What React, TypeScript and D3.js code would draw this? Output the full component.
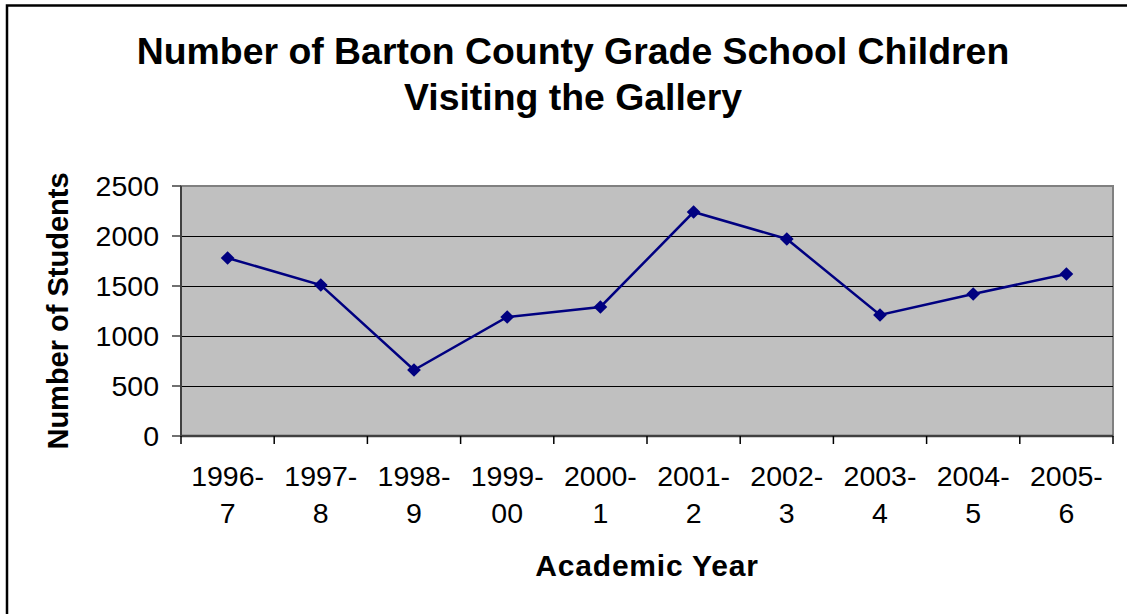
import React from "react";
import * as d3 from "d3";

const categories = ["1996-7", "1997-8", "1998-9", "1999-00", "2000-1", "2001-2", "2002-3", "2003-4", "2004-5", "2005-6"];
const students = [1780, 1510, 660, 1190, 1290, 2240, 1970, 1210, 1420, 1620];
const yTicks = [0, 500, 1000, 1500, 2000, 2500];
const titleLines = ["Number of Barton County Grade School Children", "Visiting the Gallery"];
const xTitle = "Academic Year";
const yTitle = "Number of Students";

const W = 1127;
const H = 614;
const plot = { left: 181, right: 1113, top: 186, bottom: 436 };
const FONT = "'Liberation Sans', Arial, sans-serif";

export default function App() {
  const x = d3.scaleBand<string>().domain(categories).range([plot.left, plot.right]).padding(0);
  const y = d3.scaleLinear().domain([0, 2500]).range([plot.bottom, plot.top]);
  const cx = (c: string) => (x(c) as number) + x.bandwidth() / 2;

  const line = d3
    .line<number>()
    .x((_, i) => cx(categories[i]))
    .y((d) => y(d));

  const diamond = d3.symbol().type(d3.symbolDiamond2).size(120)();
  const boundaries = categories.map((c) => x(c) as number).concat([plot.right]);

  return (
    <svg
      width={W}
      height={H}
      style={{ position: "absolute", left: 0, top: 0, background: "#fff" }}
      fontFamily={FONT}
    >
      <rect x={7} y={5.5} width={1135} height={640} fill="#fff" stroke="#000" strokeWidth={2.5} />

      {titleLines.map((t, i) => (
        <text key={t} x={573} y={64 + i * 46} textAnchor="middle" fontWeight="bold" fontSize={37.4} fill="#000">
          {t}
        </text>
      ))}

      <rect x={plot.left} y={plot.top} width={plot.right - plot.left} height={plot.bottom - plot.top} fill="#c0c0c0" stroke="#808080" strokeWidth={2} />

      {yTicks.filter((t) => t > 0 && t < 2500).map((t) => (
        <line key={t} x1={plot.left} x2={plot.right} y1={Math.round(y(t)) + 0.5} y2={Math.round(y(t)) + 0.5} stroke="#000" strokeWidth={1} />
      ))}

      {/* y axis */}
      <line x1={plot.left} x2={plot.left} y1={plot.top} y2={plot.bottom} stroke="#404040" strokeWidth={2} />
      {yTicks.map((t) => (
        <g key={t}>
          <line x1={plot.left - 9} x2={plot.left} y1={y(t)} y2={y(t)} stroke="#404040" strokeWidth={1.5} />
          <text x={159} y={y(t)} dy="0.36em" textAnchor="end" fontSize={28.5} fill="#000">
            {t}
          </text>
        </g>
      ))}

      {/* x axis */}
      <line x1={plot.left} x2={plot.right} y1={plot.bottom} y2={plot.bottom} stroke="#404040" strokeWidth={2.5} />
      {boundaries.map((b, i) => (
        <line key={i} x1={b} x2={b} y1={plot.bottom} y2={plot.bottom + 8} stroke="#000" strokeWidth={1.5} />
      ))}
      {categories.map((c) => {
        const [a, b] = c.split("-");
        return (
          <text key={c} x={cx(c)} textAnchor="middle" fontSize={28.5} fill="#000">
            <tspan x={cx(c)} y={486}>{a + "-"}</tspan>
            <tspan x={cx(c)} y={523}>{b}</tspan>
          </text>
        );
      })}

      <path d={line(students) || ""} fill="none" stroke="#000080" strokeWidth={2.5} />
      {students.map((v, i) => (
        <path key={i} d={diamond || ""} transform={`translate(${cx(categories[i])},${y(v)})`} fill="#000080" />
      ))}

      <text x={647} y={576} textAnchor="middle" fontWeight="bold" fontSize={30} fill="#000" letterSpacing={0.8}>
        {xTitle}
      </text>
      <text transform={`translate(68,311) rotate(-90)`} textAnchor="middle" fontWeight="bold" fontSize={29} fill="#000">
        {yTitle}
      </text>
    </svg>
  );
}
